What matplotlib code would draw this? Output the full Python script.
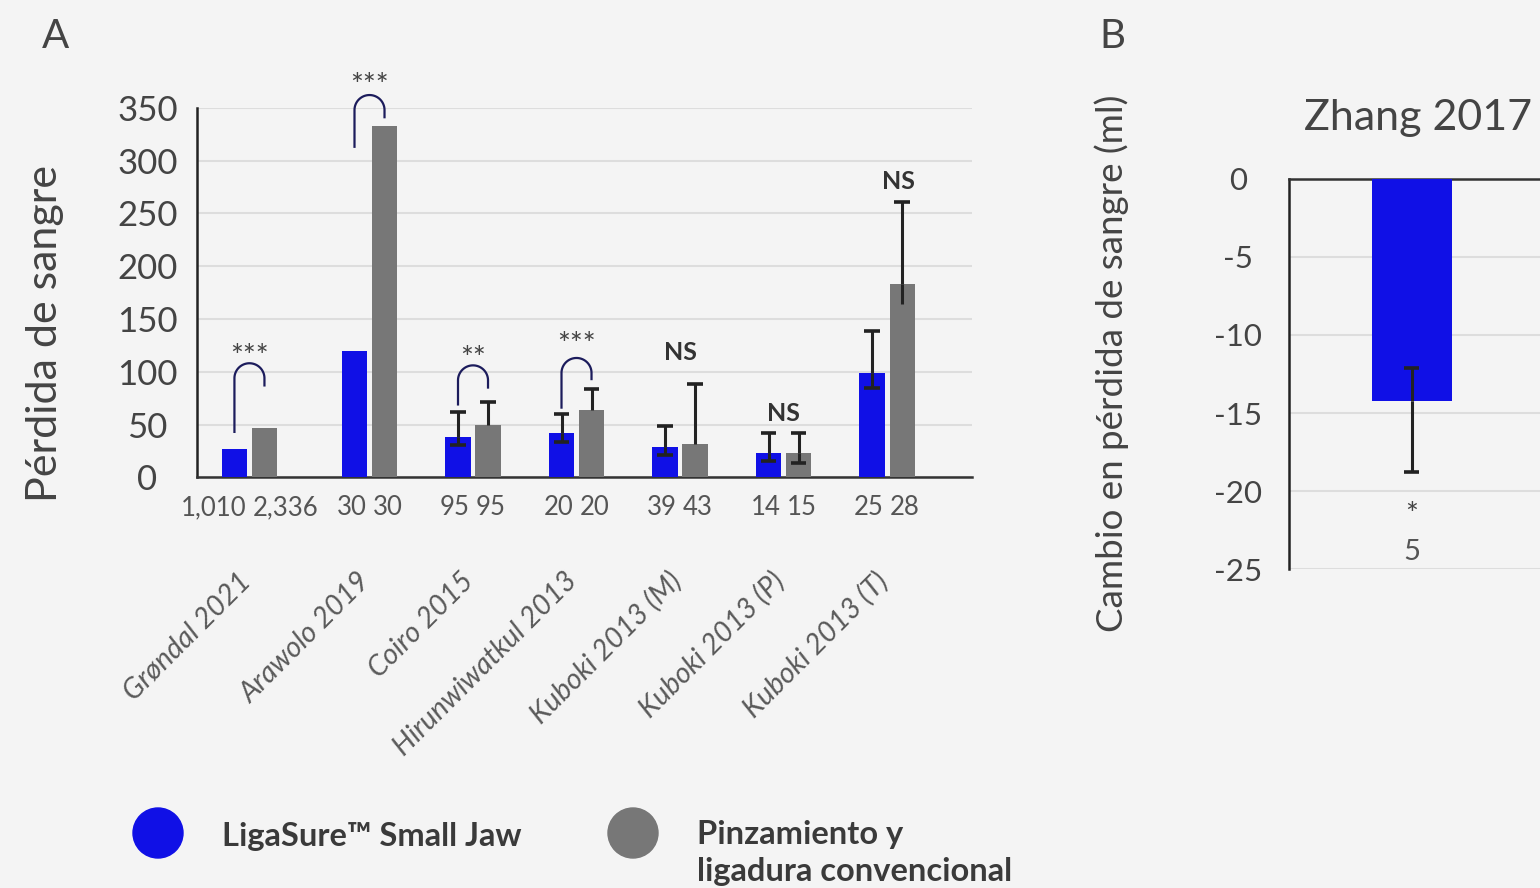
import numpy as np
import matplotlib
matplotlib.use("Agg")
import matplotlib.pyplot as plt
import matplotlib.transforms as mtransforms
from matplotlib.patches import Ellipse

plt.rcParams['font.family'] = ['Lato', 'DejaVu Sans']
plt.rcParams['axes.unicode_minus'] = False

BG = '#F4F4F4'
BLUE = '#1010E6'
GRAY = '#777777'
TXT = '#444444'
GRID = '#DDDDDD'
ERR = '#222222'
ARC = '#1C1C5C'
nan = np.nan

# --- panel A data: blood loss per study ---
studies = ['Grøndal 2021', 'Arawolo 2019', 'Coiro 2015', 'Hirunwiwatkul 2013',
           'Kuboki 2013 (M)', 'Kuboki 2013 (P)', 'Kuboki 2013 (T)']
n_ligasure = ['1,010', '30', '95', '20', '39', '14', '25']
n_conv = ['2,336', '30', '95', '20', '43', '15', '28']
loss_ligasure = [27, 120, 38, 42, 29, 23, 99]
loss_conv = [47, 333, 50, 64, 32, 23, 183]
ligasure_lo = [nan, nan, 31, 33, 21, 15, 85]
ligasure_hi = [nan, nan, 62, 60, 49, 42, 139]
conv_lo = [nan, nan, nan, nan, nan, 14, nan]
conv_hi = [nan, nan, 71, 84, 88, 42, 261]
conv_stem = [nan, nan, nan, nan, nan, nan, 164]   # lower whisker drawn without cap

# significance brackets (study index, label, left leg bottom, right leg bottom, arc top, label y)
sig_idx = [0, 1, 2, 3]
sig_text = ['***', '***', '**', '***']
sig_left = [43, 313, 69, 66]
sig_right = [87, 341, 85, 93]
sig_top = [108, 362, 106, 113]
sig_label_y = [114, 371, 112, 125]

ns_idx = [4, 5, 6]
ns_shift = [0, 0, 0.11]     # last NS sits over the conventional bar
ns_y = [118, 60, 280]

# --- panel B data: Zhang 2017 ---
zhang_change = [-14.2]
zhang_lo = [-18.8]
zhang_hi = [-12.1]
zhang_n = ['5']
zhang_sig = ['*']

fig = plt.figure(figsize=(15.4, 8.88), dpi=100, facecolor=BG)

# ---------------- panel A ----------------
ax = fig.add_axes([0.1279, 0.4625, 0.5032, 0.4162], facecolor=BG)
x = np.arange(len(studies), dtype=float)
x[0] -= 0.16   # first group has wider n labels, keep it a bit further left
off = 0.145
bw = 0.242
cap_hw = 0.075

ax.bar(x - off, loss_ligasure, width=bw, color=BLUE, zorder=3)
ax.bar(x + off, loss_conv, width=bw, color=GRAY, zorder=3)


def whisker(a, xc, y0, y1, hw, cap=True):
    a.plot([xc, xc], [y0, y1], color=ERR, lw=2.2, solid_capstyle='butt', zorder=4)
    if cap:
        a.plot([xc - hw, xc + hw], [y1, y1], color=ERR, lw=2.6,
               solid_capstyle='butt', zorder=4)


for i in range(len(studies)):
    for val, lo, hi, xc in [(loss_ligasure[i], ligasure_lo[i], ligasure_hi[i], x[i] - off),
                            (loss_conv[i], conv_lo[i], conv_hi[i], x[i] + off)]:
        if not np.isnan(hi):
            whisker(ax, xc, val, hi, cap_hw)
        if not np.isnan(lo):
            whisker(ax, xc, val, lo, cap_hw)
    if not np.isnan(conv_stem[i]):
        whisker(ax, x[i] + off, loss_conv[i], conv_stem[i], cap_hw, cap=False)

# significance arcs, drawn as a semicircle in screen proportions
ry = 14.2
t = np.linspace(np.pi, 0, 60)
for k, i in enumerate(sig_idx):
    base = sig_top[k] - ry
    xs = np.concatenate([[x[i] - off], x[i] + off * np.cos(t), [x[i] + off]])
    ys = np.concatenate([[sig_left[k]], base + ry * np.sin(t), [sig_right[k]]])
    ax.plot(xs, ys, color=ARC, lw=1.6, clip_on=False, zorder=5)
    ax.text(x[i], sig_label_y[k], sig_text[k], ha='center', va='center',
            fontsize=22, color=TXT, clip_on=False)

for i, dx, yi in zip(ns_idx, ns_shift, ns_y):
    ax.text(x[i] + dx, yi, 'NS', ha='center', va='center', fontsize=18,
            fontweight='bold', color='#333333', clip_on=False)

ax.set_xlim(-0.667, 6.82)
ax.set_ylim(0, 350)
ax.set_yticks(np.arange(0, 351, 50))
ax.set_xticks([])
ax.yaxis.grid(True, color=GRID, lw=1.5)
ax.set_axisbelow(True)
for s in ['top', 'right']:
    ax.spines[s].set_visible(False)
ax.spines['left'].set_color('#222222')
ax.spines['left'].set_linewidth(1.8)
ax.spines['bottom'].set_color('#333333')
ax.spines['bottom'].set_linewidth(1.8)
ax.tick_params(axis='y', length=0, pad=35.6, labelsize=25, labelcolor=TXT)
for lab in ax.get_yticklabels():
    lab.set_ha('center')

trans = mtransforms.blended_transform_factory(ax.transData, ax.transAxes)
for i in range(len(studies)):
    ax.text(x[i] - 0.03, -0.083, n_ligasure[i], transform=trans, ha='right',
            va='center', fontsize=18.5, color='#555555')
    ax.text(x[i] + 0.03, -0.083, n_conv[i], transform=trans, ha='left',
            va='center', fontsize=18.5, color='#555555')
    ax.text(x[i] - 0.03, -0.27, studies[i], transform=trans, rotation=45,
            rotation_mode='anchor', ha='right', va='center', style='italic',
            fontsize=20.5, color='#5A5A5A')

# ---------------- panel B ----------------
bx = fig.add_axes([0.837, 0.3589, 0.163, 0.4399], facecolor=BG)
bx.bar([0], zhang_change, width=0.8, color=BLUE, zorder=3)
whisker(bx, 0, zhang_change[0], zhang_hi[0], 0.075)
whisker(bx, 0, zhang_change[0], zhang_lo[0], 0.075)
bx.text(0, -21.5, zhang_sig[0], ha='center', va='center', fontsize=22, color=TXT)
bx.text(0, -23.9, zhang_n[0], ha='center', va='center', fontsize=21, color='#555555')
bx.set_xlim(-1.23, 1.28)
bx.set_ylim(-25, 0)
bx.set_yticks(np.arange(-25, 1, 5))
bx.set_xticks([])
bx.yaxis.grid(True, color=GRID, lw=1.5)
bx.set_axisbelow(True)
for s in ['bottom', 'right']:
    bx.spines[s].set_visible(False)
bx.spines['left'].set_color('#222222')
bx.spines['left'].set_linewidth(1.8)
bx.spines['top'].set_color('#333333')
bx.spines['top'].set_linewidth(1.8)
bx.tick_params(axis='y', length=0, pad=36.7, labelsize=22.5, labelcolor=TXT)
for lab in bx.get_yticklabels():
    lab.set_ha('center')

# ---------------- labels and legend ----------------
W, H = 1540, 888


def fx(px):
    return px / W


def fy(py):
    return 1 - py / H


fig.text(fx(55), fy(37), 'A', ha='center', va='center', fontsize=29, color=TXT)
fig.text(fx(1112), fy(37), 'B', ha='center', va='center', fontsize=29, color=TXT)
fig.text(fx(1418), fy(118), 'Zhang 2017', ha='center', va='center', fontsize=31, color=TXT)
fig.text(fx(45), fy(333), 'Pérdida de sangre', rotation=90, ha='center',
         va='center', fontsize=31, color=TXT)
fig.text(fx(1112), fy(363), 'Cambio en pérdida de sangre (ml)', rotation=90,
         ha='center', va='center', fontsize=26.5, color=TXT)

lax = fig.add_axes([0, 0, 1, 1], facecolor='none')
lax.set_xlim(0, W)
lax.set_ylim(H, 0)
lax.axis('off')
lax.add_patch(Ellipse((158, 833), 50, 50, color=BLUE))
lax.add_patch(Ellipse((633, 833), 50, 50, color=GRAY))
lax.text(222, 836, 'LigaSure™ Small Jaw', ha='left', va='center', fontsize=23.5,
         fontweight='bold', color='#3A3A3A')
lax.text(697, 834, 'Pinzamiento y', ha='left', va='center', fontsize=23.5,
         fontweight='bold', color='#3A3A3A')
lax.text(697, 871, 'ligadura convencional', ha='left', va='center', fontsize=23.5,
         fontweight='bold', color='#3A3A3A')

fig.savefig('out.png', dpi=100, facecolor=BG)
